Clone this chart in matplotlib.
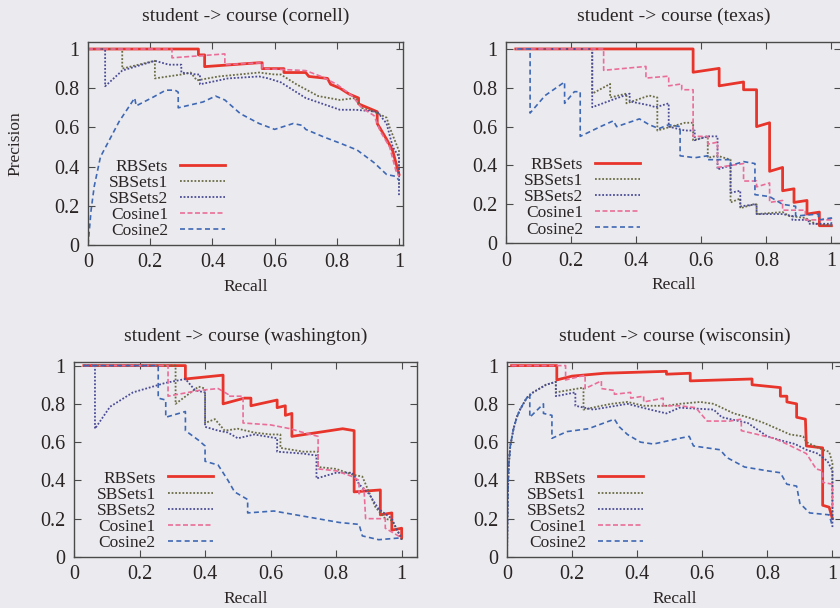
"""
Precision/recall curves for student -> course on the four WebKB sites.
"""
import matplotlib
matplotlib.use('Agg')
import matplotlib.pyplot as plt

plt.rcParams['font.family'] = ['Liberation Serif', 'DejaVu Serif']

SERIES = ['RBSets', 'SBSets1', 'SBSets2', 'Cosine1', 'Cosine2']
TICKS = [0, 0.2, 0.4, 0.6, 0.8, 1]
TICK_LABELS = ['0', '0.2', '0.4', '0.6', '0.8', '1']

# --- cornell ---
cornell_rbsets_x = [0, 0.355, 0.355, 0.375, 0.375, 0.55, 0.56, 0.56, 0.63, 0.63, 0.70, 0.71, 0.77, 0.78,
                    0.81, 0.84, 0.87, 0.87, 0.90, 0.93, 0.93, 0.96, 0.98, 0.99, 1.0]
cornell_rbsets_y = [1.0, 1.0, 0.97, 0.97, 0.91, 0.93, 0.93, 0.90, 0.90, 0.88, 0.88, 0.86, 0.85, 0.82,
                    0.80, 0.77, 0.75, 0.72, 0.70, 0.68, 0.62, 0.54, 0.48, 0.42, 0.36]
cornell_sbsets1_x = [0, 0.11, 0.11, 0.215, 0.215, 0.30, 0.33, 0.35, 0.42, 0.55, 0.60, 0.62, 0.67, 0.74,
                     0.81, 0.86, 0.88, 0.92, 0.96, 0.97, 0.99, 1.0, 1.0]
cornell_sbsets1_y = [1.0, 1.0, 0.90, 0.94, 0.85, 0.87, 0.88, 0.84, 0.86, 0.88, 0.87, 0.87, 0.82, 0.76,
                     0.74, 0.75, 0.70, 0.68, 0.65, 0.60, 0.52, 0.48, 0.30]
cornell_sbsets2_x = [0, 0.055, 0.055, 0.11, 0.215, 0.26, 0.30, 0.30, 0.35, 0.36, 0.36, 0.45, 0.55, 0.58,
                     0.62, 0.70, 0.81, 0.86, 0.93, 0.96, 0.98, 1.0, 1.0]
cornell_sbsets2_y = [1.0, 1.0, 0.81, 0.89, 0.94, 0.92, 0.92, 0.88, 0.87, 0.87, 0.82, 0.85, 0.86, 0.85,
                     0.83, 0.75, 0.69, 0.69, 0.68, 0.62, 0.50, 0.45, 0.25]
cornell_cosine1_x = [0, 0.27, 0.27, 0.44, 0.44, 0.56, 0.56, 0.70, 0.75, 0.80, 0.85, 0.88, 0.92, 0.94,
                     0.97, 0.99, 1.0]
cornell_cosine1_y = [1.0, 1.0, 0.955, 0.975, 0.92, 0.93, 0.90, 0.89, 0.86, 0.82, 0.76, 0.70, 0.66, 0.58,
                     0.50, 0.38, 0.35]
cornell_cosine2_x = [0, 0.01, 0.02, 0.04, 0.06, 0.10, 0.15, 0.155, 0.21, 0.25, 0.28, 0.29, 0.29, 0.37,
                     0.41, 0.44, 0.49, 0.55, 0.60, 0.66, 0.69, 0.70, 0.76, 0.81, 0.865, 0.92, 0.96,
                     0.99, 1.0]
cornell_cosine2_y = [0.0, 0.18, 0.30, 0.45, 0.51, 0.63, 0.75, 0.71, 0.755, 0.79, 0.79, 0.78, 0.70, 0.73,
                     0.76, 0.74, 0.67, 0.62, 0.59, 0.62, 0.61, 0.59, 0.55, 0.52, 0.485, 0.42, 0.36,
                     0.35, 0.33]

# --- texas ---
texas_rbsets_x = [0.03, 0.575, 0.575, 0.655, 0.655, 0.73, 0.73, 0.77, 0.77, 0.81, 0.81, 0.85, 0.85,
                  0.885, 0.885, 0.925, 0.925, 0.963, 0.963, 1.0]
texas_rbsets_y = [1.0, 1.0, 0.88, 0.90, 0.81, 0.83, 0.79, 0.79, 0.60, 0.62, 0.37, 0.39, 0.27,
                  0.28, 0.21, 0.22, 0.15, 0.16, 0.09, 0.09]
texas_sbsets1_x = [0.03, 0.265, 0.265, 0.32, 0.32, 0.37, 0.37, 0.44, 0.465, 0.465, 0.55, 0.575, 0.575,
                   0.62, 0.62, 0.65, 0.69, 0.69, 0.72, 0.72, 0.76, 0.77, 0.77, 0.85, 0.87, 0.92,
                   0.95, 1.0]
texas_sbsets1_y = [1.0, 1.0, 0.77, 0.82, 0.75, 0.77, 0.72, 0.76, 0.75, 0.58, 0.62, 0.62, 0.53,
                   0.55, 0.44, 0.45, 0.43, 0.21, 0.23, 0.18, 0.20, 0.20, 0.15, 0.16, 0.14, 0.13,
                   0.10, 0.09]
texas_sbsets2_x = [0.03, 0.265, 0.265, 0.33, 0.38, 0.38, 0.44, 0.46, 0.50, 0.50, 0.55, 0.58, 0.58,
                   0.62, 0.65, 0.65, 0.69, 0.69, 0.72, 0.72, 0.77, 0.77, 0.85, 0.88, 0.88, 0.93,
                   0.93, 1.0]
texas_sbsets2_y = [1.0, 1.0, 0.70, 0.74, 0.77, 0.73, 0.71, 0.70, 0.72, 0.60, 0.58, 0.58, 0.53,
                   0.55, 0.55, 0.38, 0.40, 0.26, 0.27, 0.19, 0.20, 0.15, 0.15, 0.14, 0.12, 0.12,
                   0.10, 0.10]
texas_cosine1_x = [0.03, 0.30, 0.30, 0.43, 0.43, 0.50, 0.50, 0.54, 0.54, 0.575, 0.575, 0.62, 0.62,
                   0.65, 0.65, 0.73, 0.73, 0.77, 0.77, 0.81, 0.81, 0.85, 0.85, 0.92, 0.92, 1.0]
texas_cosine1_y = [1.0, 1.0, 0.89, 0.91, 0.85, 0.86, 0.81, 0.82, 0.79, 0.79, 0.55, 0.55, 0.51,
                   0.52, 0.39, 0.41, 0.32, 0.32, 0.29, 0.31, 0.21, 0.22, 0.17, 0.17, 0.12, 0.12]
texas_cosine2_x = [0.035, 0.074, 0.074, 0.12, 0.18, 0.18, 0.21, 0.228, 0.228, 0.29, 0.33, 0.34, 0.41,
                   0.44, 0.47, 0.50, 0.535, 0.535, 0.58, 0.62, 0.62, 0.69, 0.69, 0.73, 0.765, 0.765,
                   0.81, 0.85, 0.89, 0.89, 0.96, 0.96, 1.0, 1.0]
texas_cosine2_y = [1.0, 1.0, 0.67, 0.76, 0.83, 0.72, 0.78, 0.78, 0.55, 0.60, 0.63, 0.60, 0.64,
                   0.61, 0.59, 0.61, 0.60, 0.45, 0.44, 0.45, 0.43, 0.43, 0.40, 0.42, 0.41, 0.25,
                   0.24, 0.20, 0.19, 0.14, 0.15, 0.12, 0.13, 0.09]

# --- washington ---
washington_rbsets_x = [0.03, 0.34, 0.34, 0.455, 0.455, 0.52, 0.54, 0.54, 0.62, 0.62, 0.645, 0.645,
                       0.665, 0.665, 0.82, 0.855, 0.855, 0.935, 0.935, 0.97, 0.97, 1.0, 1.0]
washington_rbsets_y = [1.0, 1.0, 0.93, 0.95, 0.80, 0.83, 0.83, 0.79, 0.82, 0.78, 0.79, 0.74,
                       0.75, 0.63, 0.67, 0.66, 0.34, 0.35, 0.22, 0.23, 0.14, 0.15, 0.10]
washington_sbsets1_x = [0.03, 0.31, 0.31, 0.38, 0.40, 0.40, 0.43, 0.46, 0.50, 0.55, 0.60, 0.63, 0.63,
                        0.70, 0.745, 0.745, 0.80, 0.85, 0.88, 0.90, 0.92, 0.95, 0.97, 1.0, 1.0]
washington_sbsets1_y = [1.0, 1.0, 0.80, 0.89, 0.88, 0.70, 0.72, 0.66, 0.67, 0.65, 0.64, 0.64, 0.57,
                        0.55, 0.55, 0.47, 0.46, 0.43, 0.42, 0.34, 0.26, 0.20, 0.19, 0.10, 0.09]
washington_sbsets2_x = [0.03, 0.064, 0.064, 0.11, 0.18, 0.28, 0.34, 0.37, 0.40, 0.40, 0.44, 0.47,
                        0.50, 0.55, 0.62, 0.62, 0.70, 0.74, 0.74, 0.80, 0.85, 0.87, 0.90, 0.93,
                        0.97, 1.0]
washington_sbsets2_y = [1.0, 1.0, 0.67, 0.785, 0.86, 0.91, 0.93, 0.87, 0.86, 0.68, 0.66, 0.65,
                        0.62, 0.64, 0.62, 0.55, 0.54, 0.53, 0.41, 0.44, 0.44, 0.38, 0.33, 0.25,
                        0.20, 0.09]
washington_cosine1_x = [0.03, 0.287, 0.287, 0.38, 0.44, 0.47, 0.47, 0.516, 0.516, 0.60, 0.66, 0.70,
                        0.745, 0.745, 0.80, 0.85, 0.87, 0.87, 0.885, 0.89, 0.95, 0.95, 1.0]
washington_cosine1_y = [1.0, 1.0, 0.84, 0.87, 0.88, 0.85, 0.84, 0.84, 0.70, 0.69, 0.67, 0.65,
                        0.63, 0.46, 0.45, 0.42, 0.40, 0.33, 0.36, 0.20, 0.20, 0.15, 0.10]
washington_cosine2_x = [0.03, 0.257, 0.257, 0.28, 0.28, 0.34, 0.34, 0.38, 0.40, 0.40, 0.44, 0.47,
                        0.49, 0.53, 0.53, 0.61, 0.71, 0.81, 0.87, 0.88, 0.93, 1.0]
washington_cosine2_y = [1.0, 1.0, 0.83, 0.82, 0.73, 0.76, 0.66, 0.61, 0.58, 0.50, 0.48, 0.40,
                        0.34, 0.30, 0.23, 0.24, 0.21, 0.18, 0.17, 0.11, 0.09, 0.10]

# --- wisconsin ---
wisconsin_rbsets_x = [0.014, 0.153, 0.153, 0.20, 0.30, 0.49, 0.49, 0.563, 0.563, 0.753, 0.753, 0.84,
                      0.84, 0.86, 0.86, 0.89, 0.89, 0.917, 0.92, 0.97, 0.97, 0.99, 1.0]
wisconsin_rbsets_y = [1.0, 1.0, 0.925, 0.945, 0.96, 0.97, 0.955, 0.96, 0.92, 0.93, 0.90, 0.885,
                      0.84, 0.84, 0.81, 0.80, 0.73, 0.72, 0.58, 0.57, 0.27, 0.26, 0.20]
wisconsin_sbsets1_x = [0.0, 0.002, 0.005, 0.01, 0.02, 0.03, 0.04, 0.06, 0.08, 0.10, 0.12, 0.15, 0.15,
                       0.235, 0.235, 0.29, 0.32, 0.37, 0.42, 0.49, 0.53, 0.594, 0.635, 0.697, 0.74,
                       0.79, 0.87, 0.91, 0.92, 0.97, 0.99, 1.0, 1.0]
wisconsin_sbsets1_y = [0.0, 0.30, 0.47, 0.58, 0.67, 0.73, 0.77, 0.83, 0.86, 0.88, 0.90, 0.915, 0.86,
                       0.885, 0.77, 0.79, 0.80, 0.81, 0.79, 0.79, 0.80, 0.81, 0.80, 0.75, 0.73,
                       0.70, 0.64, 0.63, 0.60, 0.56, 0.55, 0.49, 0.20]
wisconsin_sbsets2_x = [0.0, 0.002, 0.005, 0.01, 0.02, 0.03, 0.04, 0.06, 0.08, 0.10, 0.12, 0.15, 0.15,
                       0.21, 0.21, 0.265, 0.37, 0.44, 0.49, 0.53, 0.635, 0.66, 0.74, 0.80, 0.84,
                       0.885, 0.92, 0.955, 0.985, 1.0, 1.0]
wisconsin_sbsets2_y = [0.0, 0.30, 0.47, 0.58, 0.67, 0.73, 0.77, 0.83, 0.86, 0.88, 0.90, 0.915, 0.84,
                       0.86, 0.79, 0.77, 0.80, 0.77, 0.75, 0.78, 0.77, 0.73, 0.70, 0.63, 0.61,
                       0.59, 0.56, 0.54, 0.50, 0.45, 0.15]
wisconsin_cosine1_x = [0.014, 0.18, 0.18, 0.24, 0.24, 0.29, 0.29, 0.33, 0.33, 0.38, 0.38, 0.42, 0.42,
                       0.48, 0.48, 0.53, 0.58, 0.615, 0.685, 0.72, 0.72, 0.82, 0.86, 0.92, 0.95,
                       0.97, 0.97, 1.0, 1.0]
wisconsin_cosine1_y = [1.0, 1.0, 0.925, 0.95, 0.88, 0.92, 0.88, 0.87, 0.85, 0.86, 0.83, 0.84, 0.81,
                       0.83, 0.79, 0.79, 0.78, 0.71, 0.71, 0.72, 0.66, 0.62, 0.59, 0.54, 0.46,
                       0.45, 0.39, 0.38, 0.25]
wisconsin_cosine2_x = [0.0, 0.002, 0.005, 0.01, 0.02, 0.03, 0.04, 0.06, 0.07, 0.07, 0.112, 0.112,
                       0.138, 0.138, 0.184, 0.25, 0.33, 0.345, 0.37, 0.41, 0.45, 0.53, 0.56, 0.573,
                       0.655, 0.675, 0.73, 0.80, 0.84, 0.86, 0.89, 0.90, 0.93, 0.99, 1.0]
wisconsin_cosine2_y = [0.0, 0.30, 0.47, 0.58, 0.67, 0.73, 0.77, 0.83, 0.85, 0.73, 0.80, 0.75,
                       0.74, 0.62, 0.655, 0.67, 0.72, 0.68, 0.64, 0.60, 0.59, 0.62, 0.63, 0.58,
                       0.56, 0.52, 0.47, 0.45, 0.44, 0.38, 0.37, 0.28, 0.23, 0.22, 0.16]

# line styles, one per series (gnuplot-like)
STYLES = {
    'RBSets':  dict(color='#e8352b', lw=2.0, linestyle='-'),
    'SBSets1': dict(color='#6b6b45', lw=1.3, linestyle=(0, (1, 1))),
    'SBSets2': dict(color='#4b4b96', lw=1.3, linestyle=(0, (1, 1))),
    'Cosine1': dict(color='#ea6d98', lw=1.2, linestyle=(0, (3, 1.5))),
    'Cosine2': dict(color='#3f68b4', lw=1.2, linestyle=(0, (3, 2))),
}

BG = '#ebebef'
TEXT = '#2a2424'


def draw_panel(ax, title, curves, xmax, ymax, legend_right):
    """Draw one precision/recall panel."""
    ax.set_facecolor(BG)
    for name, (xs, ys) in zip(SERIES, curves):
        ax.plot(xs, ys, label=name, **STYLES[name])
    ax.set_xlim(0, xmax)
    ax.set_ylim(0, ymax)
    ax.set_xticks(TICKS)
    ax.set_xticklabels(TICK_LABELS)
    ax.set_yticks(TICKS)
    ax.set_yticklabels(TICK_LABELS)
    ax.tick_params(direction='in', top=True, right=True, length=5, width=0.8,
                   labelsize=14.5, pad=6, colors='#4a4a4a', labelcolor=TEXT)
    for sp in ax.spines.values():
        sp.set_color('#4a4a4a')
        sp.set_linewidth(1.0)
    ax.set_title(title, fontsize=14, pad=15, color=TEXT)
    ax.set_xlabel('Recall', fontsize=12.5, labelpad=5, color=TEXT)
    leg = ax.legend(loc='lower right', bbox_to_anchor=(legend_right, -0.015),
                    frameon=False, markerfirst=False, fontsize=12.5, borderpad=0,
                    handlelength=2.6, handletextpad=0.7, labelspacing=0.0)
    for t in leg.get_texts():
        t.set_color(TEXT)


fig = plt.figure(figsize=(8.4, 6.08), dpi=100)
fig.patch.set_facecolor(BG)

ax_tl = fig.add_axes([0.1048, 0.597, 0.375, 0.334])
ax_tr = fig.add_axes([0.6024, 0.600, 0.399, 0.331])
ax_bl = fig.add_axes([0.0881, 0.084, 0.408, 0.321])
ax_br = fig.add_axes([0.6036, 0.084, 0.399, 0.321])

draw_panel(ax_tl, 'student -> course (cornell)',
           [(cornell_rbsets_x, cornell_rbsets_y), (cornell_sbsets1_x, cornell_sbsets1_y),
            (cornell_sbsets2_x, cornell_sbsets2_y), (cornell_cosine1_x, cornell_cosine1_y),
            (cornell_cosine2_x, cornell_cosine2_y)],
           1.013, 1.036, 0.463)
draw_panel(ax_tr, 'student -> course (texas)',
           [(texas_rbsets_x, texas_rbsets_y), (texas_sbsets1_x, texas_sbsets1_y),
            (texas_sbsets2_x, texas_sbsets2_y), (texas_cosine1_x, texas_cosine1_y),
            (texas_cosine2_x, texas_cosine2_y)],
           1.03, 1.036, 0.427)
draw_panel(ax_bl, 'student -> course (washington)',
           [(washington_rbsets_x, washington_rbsets_y), (washington_sbsets1_x, washington_sbsets1_y),
            (washington_sbsets2_x, washington_sbsets2_y), (washington_cosine1_x, washington_cosine1_y),
            (washington_cosine2_x, washington_cosine2_y)],
           1.046, 1.02, 0.431)
draw_panel(ax_br, 'student -> course (wisconsin)',
           [(wisconsin_rbsets_x, wisconsin_rbsets_y), (wisconsin_sbsets1_x, wisconsin_sbsets1_y),
            (wisconsin_sbsets2_x, wisconsin_sbsets2_y), (wisconsin_cosine1_x, wisconsin_cosine1_y),
            (wisconsin_cosine2_x, wisconsin_cosine2_y)],
           1.03, 1.02, 0.433)

ax_tl.set_ylabel('Precision', fontsize=12.5, labelpad=22, color=TEXT)

fig.savefig('out.png', dpi=100, facecolor=BG)
